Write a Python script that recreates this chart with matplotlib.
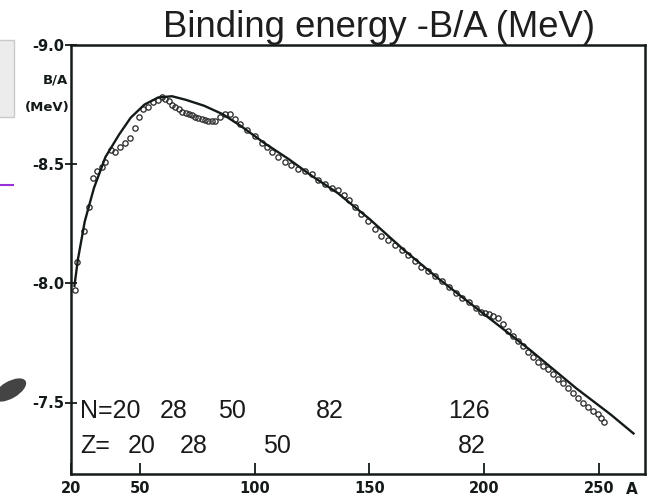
import matplotlib
matplotlib.use("Agg")
import matplotlib.pyplot as plt
from matplotlib.patches import Rectangle, Ellipse
from matplotlib.lines import Line2D
from matplotlib.transforms import IdentityTransform

plt.rcParams['axes.unicode_minus'] = False

# smooth semi-empirical fit (line)
fit_A = [21.5, 23, 26, 30, 35, 41, 46, 52, 58, 64, 70, 78, 86, 94, 104,
         115, 125, 136, 150, 165, 180, 200, 220, 240, 255, 265]
fit_B = [-7.99, -8.10, -8.26, -8.40, -8.53, -8.625, -8.695, -8.75, -8.78, -8.785,
         -8.77, -8.745, -8.71, -8.66, -8.59, -8.52, -8.45, -8.38, -8.27, -8.14,
         -8.02, -7.87, -7.72, -7.56, -7.45, -7.37]

# measured nuclei (open circles)
exp_A = [21.9, 22.6, 25.5, 27.7, 29.4, 31.3, 33.5, 34.9, 37.5, 39.3, 41.4, 43.6,
         45.8, 48.0, 49.4, 51.3, 53.5, 55.8, 58.0, 59.6, 61.0, 62.5, 64.0, 65.4,
         67.0, 68.3, 70.0, 71.2, 72.6, 74.0, 75.5, 77.0, 78.4, 79.8, 81.2, 82.7,
         84.9, 87.0, 89.3, 91.4, 93.6, 96.5, 100.1, 103.0, 105.2, 107.4, 110.0,
         113.2, 116.0, 119.0, 122.0, 124.8, 127.5, 130.6, 133.5, 136.4, 139.0,
         141.0, 143.6, 146.5, 149.4, 152.3, 155.2, 158.0, 161.0, 164.0, 166.8,
         169.7, 172.6, 175.5, 178.5, 181.5, 184.5, 187.5, 190.5, 193.5, 196.5,
         198.5, 200.1, 202.0, 204.0, 206.0, 208.0, 210.3, 212.5, 214.7, 217.0,
         219.0, 221.2, 223.3, 225.5, 227.7, 230.0, 232.0, 234.2, 236.4, 238.5,
         240.7, 243.0, 245.0, 247.2, 249.4, 251.0, 252.3]
exp_B = [-7.97, -8.09, -8.22, -8.32, -8.44, -8.47, -8.49, -8.51, -8.56, -8.55, -8.57, -8.59,
         -8.61, -8.65, -8.70, -8.73, -8.74, -8.76, -8.77, -8.78, -8.775, -8.765, -8.75, -8.74,
         -8.73, -8.72, -8.715, -8.71, -8.705, -8.70, -8.695, -8.69, -8.685, -8.68, -8.68, -8.68,
         -8.70, -8.71, -8.71, -8.69, -8.67, -8.645, -8.62, -8.59, -8.57, -8.55, -8.53,
         -8.51, -8.495, -8.48, -8.47, -8.46, -8.435, -8.415, -8.40, -8.39, -8.37,
         -8.35, -8.32, -8.29, -8.26, -8.23, -8.20, -8.18, -8.16, -8.14, -8.12,
         -8.095, -8.07, -8.05, -8.03, -8.01, -7.985, -7.96, -7.94, -7.92, -7.895,
         -7.88, -7.875, -7.87, -7.865, -7.855, -7.83, -7.80, -7.78, -7.76, -7.735,
         -7.71, -7.69, -7.67, -7.655, -7.64, -7.62, -7.60, -7.58, -7.56, -7.54,
         -7.52, -7.50, -7.48, -7.465, -7.45, -7.435, -7.42]

x_ticks = [20, 50, 100, 150, 200, 250]
y_ticks = [-9.0, -8.5, -8.0, -7.5]
y_tick_labels = ['-9.0', '-8.5', '-8.0', '-7.5']

# magic numbers row labels
n_labels = ['N=20', '28', '50', '82', '126']
n_x = [23.9, 58.8, 84.0, 126.7, 184.2]
z_labels = ['Z=', '20', '28', '50', '82']
z_x = [23.9, 44.8, 67.5, 103.6, 188.6]

ink = '#141a1a'

fig = plt.figure(figsize=(6.59, 5.01), dpi=100)
ax = fig.add_axes([71 / 659, 1 - 474 / 501, 574 / 659, 429 / 501])

ax.plot(fit_A, fit_B, color=ink, lw=1.7, zorder=3)
ax.plot(exp_A, exp_B, 'o', mfc='none', mec='#2e2e2e', ms=3.8, mew=0.95, zorder=2)

ax.set_xlim(20, 270)
ax.set_ylim(-7.2, -9.0)

ax.set_xticks(x_ticks)
ax.set_xticklabels([str(t) for t in x_ticks])
ax.set_yticks(y_ticks)
ax.set_yticklabels(y_tick_labels)
ax.tick_params(axis='x', direction='in', length=8, width=1.3, pad=5, colors=ink)
ax.tick_params(axis='y', direction='inout', length=8, width=1.3, pad=1, colors=ink)
for lab in ax.get_xticklabels() + ax.get_yticklabels():
    lab.set_fontweight('bold')
    lab.set_fontsize(10.5)
for sp in ax.spines.values():
    sp.set_linewidth(1.8)
    sp.set_color(ink)

for lab, xx in zip(n_labels, n_x):
    ax.text(xx, -7.437, lab, fontsize=18, family='Liberation Sans', color='#1a1a1a',
            ha='left', va='baseline')
for lab, xx in zip(z_labels, z_x):
    ax.text(xx, -7.29, lab, fontsize=18, family='Liberation Sans', color='#1a1a1a',
            ha='left', va='baseline')

# axis captions
fig.text(68 / 659, 1 - 80 / 501, 'B/A', fontsize=9.5, fontweight='bold', color=ink,
         ha='right', va='center')
fig.text(70 / 659, 1 - 108 / 501, '(MeV)', fontsize=9.5, fontweight='bold', color=ink,
         ha='right', va='center')
fig.text(632 / 659, 1 - 490 / 501, 'A', fontsize=11, fontweight='bold', color=ink,
         ha='center', va='center')

fig.text(379 / 659, 1 - 37 / 501, 'Binding energy -B/A (MeV)', fontsize=26.3,
         family='Liberation Sans', color='#1e1e1e', ha='center', va='baseline')

# slide leftovers on the left edge
fig.add_artist(Rectangle((-0.01, 1 - 117 / 501), 14 / 659 + 0.01, 77 / 501,
                         transform=fig.transFigure, fc='#ececec', ec='#c9c9c9', lw=1))
fig.add_artist(Line2D([0, 13 / 659], [1 - 185 / 501, 1 - 185 / 501],
                      transform=fig.transFigure, color='#9a30d8', lw=1.5))
fig.add_artist(Ellipse((10, 501 - 390), 36, 17, angle=30, transform=IdentityTransform(),
                       fc='#444444', ec='none'))

fig.savefig('out.png', dpi=100)
